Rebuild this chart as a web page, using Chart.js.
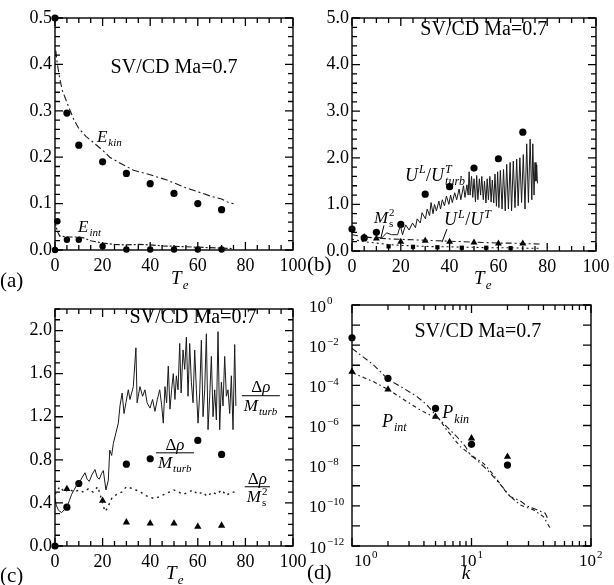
<!DOCTYPE html>
<html><head><meta charset="utf-8">
<script src="https://cdn.jsdelivr.net/npm/chart.js@4.4.1/dist/chart.umd.min.js"></script>
<style>
html,body{margin:0;padding:0;background:#fff;width:614px;height:585px;overflow:hidden}
canvas{position:absolute}
</style></head><body>
<canvas id="ca" width="307" height="292" style="left:0;top:0"></canvas>
<canvas id="cb" width="307" height="292" style="left:307px;top:0"></canvas>
<canvas id="cc" width="307" height="293" style="left:0;top:292px"></canvas>
<canvas id="cd" width="307" height="293" style="left:307px;top:292px"></canvas>
<script>
// ---------------- DATA ----------------
// Panel (a): energies vs T_e
const aXTicks = [0, 20, 40, 60, 80, 100];
const aYTicks = [0, 0.1, 0.2, 0.3, 0.4, 0.5];
const aEkinT = [0.3, 1, 2, 3, 4.5, 6, 8, 10, 13, 17, 20, 23, 27, 33, 40, 47, 55, 62, 66, 70, 73, 75];
const aEkin  = [0.43, 0.40, 0.37, 0.345, 0.325, 0.305, 0.28, 0.262, 0.245, 0.228, 0.215, 0.2, 0.188, 0.172, 0.162, 0.151, 0.134, 0.122, 0.115, 0.11, 0.102, 0.1];
const aEintT = [0, 0.5, 1, 2, 4, 6, 8, 10, 12, 15, 18, 20, 25, 30, 35, 40, 45, 50, 55, 60, 65, 70, 75];
const aEint  = [0.065, 0.05, 0.04, 0.03, 0.029, 0.028, 0.028, 0.028, 0.026, 0.02, 0.017, 0.015, 0.012, 0.011, 0.012, 0.011, 0.009, 0.008, 0.007, 0.006, 0.005, 0.004, 0.003];
const aKinDotT = [0, 5, 10, 20, 30, 40, 50, 60, 70];
const aKinDot  = [0.5, 0.295, 0.226, 0.19, 0.165, 0.143, 0.122, 0.1, 0.087];
const aIntDotT = [0, 1, 5, 10, 20, 30, 40, 50, 60, 70];
const aIntDot  = [0, 0.062, 0.022, 0.022, 0.008, 0.001, 0.001, 0.001, 0.001, 0.001];

// Panel (b): velocity ratios vs T_e
const bXTicks = [0, 20, 40, 60, 80, 100];
const bYTicks = [0, 1, 2, 3, 4, 5];
const bTurbT = [10,12.2,14.2,16.2,18.7,19.8,20.7,22,23.4,24.8,26,26.7,28,28.7,30.1,30.8,31.8,32.4,33.2,33.8,34.6,35.6,36.3,37,37.9,38.7,39.7,40.4,41.1,42.1,42.9,43.9,44.6,45.7,46.3,47.1,47.6,48,48.4,49,49.5,50,50.6,51.1,51.6,52.2,52.7,53.2,53.8,54.3,54.9,55.4,55.9,56.5,57,57.5,58.1,58.6,59.2,59.7,60.2,60.8,61.5,62.1,62.8,63.4,64.1,64.8,65.4,66.1,66.8,67.5,68.1,68.8,69.5,70.2,70.9,71.6,72.3,73,73.7,74.1,74.6,75,75.4,75.7,76];
const bTurb  = [0.3,0.28,0.39,0.35,0.35,0.55,0.35,0.56,0.45,0.6,0.5,0.69,0.6,0.82,0.69,0.9,0.76,1.04,0.8,1.0,0.86,1.07,0.9,1.1,0.97,1.18,1.0,1.2,1.04,1.25,1.1,1.33,1.1,1.4,1.15,1.42,1.2,1.7,1.2,1.6,1.15,1.55,1.05,1.62,1.1,1.55,1.2,1.6,1.1,1.5,1.03,1.55,1.1,1.6,1.05,1.52,1.03,1.65,0.96,1.7,0.93,1.73,0.9,1.75,0.86,1.86,0.9,1.9,0.86,1.93,0.93,1.97,0.97,2.0,1.04,2.07,0.9,2.3,1.04,2.4,1.1,2.3,1.2,1.9,1.5,1.85,1.45];
const bTurbDotT = [0, 5, 10, 20, 30, 40, 50, 60, 70];
const bTurbDot  = [0.47, 0.28, 0.4, 0.57, 1.22, 1.38, 1.78, 1.98, 2.55];
const bUlutT = [0, 5, 10, 15, 20, 25, 30, 35, 40, 45, 50, 55, 60, 65, 70, 77];
const bUlut  = [0.35, 0.3, 0.28, 0.26, 0.25, 0.24, 0.23, 0.22, 0.21, 0.2, 0.19, 0.18, 0.17, 0.17, 0.16, 0.15];
const bUlutTriT = [5, 10, 20, 30, 40, 50, 60, 70];
const bUlutTri  = [0.3, 0.27, 0.2, 0.22, 0.2, 0.18, 0.16, 0.16];
const bMs2T = [0, 5, 10, 15, 20, 25, 30, 35, 40, 45, 50, 55, 60, 65, 70, 77];
const bMs2  = [0.25, 0.2, 0.17, 0.14, 0.12, 0.11, 0.1, 0.09, 0.09, 0.08, 0.08, 0.07, 0.07, 0.07, 0.06, 0.06];
const bMs2SqT = [15, 25, 35, 45, 55, 65];
const bMs2Sq  = [0.1, 0.09, 0.08, 0.07, 0.07, 0.06];

// Panel (c): density fluctuation ratios vs T_e
const cXTicks = [0, 20, 40, 60, 80, 100];
const cYTicks = [0, 0.4, 0.8, 1.2, 1.6, 2.0];
const cTurbT = [0,0.5,1.5,2.8,4,5,6,7,8,9,10.5,11.5,12.6,13.5,14.4,15.5,16.8,17.7,18.6,19.5,20.3,21.4,22.4,23,23.8,24.5,25.6,26.6,27.3,28.2,29,29.8,30.8,31.5,32.9,34,34.5,35.7,36.8,37.8,38.7,39.9,41,42,43,44,44.8,45.5,46.2,46.9,47.6,48.3,49,49.7,50.4,51,51.7,52.4,53,53.8,54.5,55.2,55.9,56.6,57.3,58,58.7,59.4,60.1,60.8,61.5,62.2,62.9,63.6,64.3,65,65.7,66.4,67.1,67.8,68.5,69.2,69.9,70.6,71.3,72,72.7,73.4,74.1,74.8,75.5,76];
const cTurb  = [0.45,0.38,0.33,0.31,0.34,0.36,0.42,0.48,0.52,0.56,0.6,0.64,0.68,0.62,0.6,0.66,0.71,0.64,0.62,0.67,0.7,0.52,0.61,0.89,0.84,0.95,1.05,1.14,1.3,1.42,1.23,1.33,1.45,1.36,1.48,1.84,1.33,1.48,1.39,1.45,1.33,1.28,1.36,1.25,1.36,1.45,1.31,1.14,1.48,1.33,1.67,1.27,1.45,1.6,1.36,1.58,1.45,1.88,1.42,1.82,1.64,1.94,1.39,1.88,1.52,1.33,1.82,1.45,1.14,1.42,1.91,1.2,1.45,1.97,1.08,1.39,1.76,1.2,1.45,1.17,1.99,1.08,1.52,1.3,1.76,1.39,1.45,1.23,1.58,1.08,1.87,1.3];
const cMsT = [0,2,4,6,8,10,12,14,16,18,20,21,22,24,26,28,30,33,36,38,40,42,44,46,48,50,52,54,56,58,60,62,64,66,68,70,72,74,76];
const cMs  = [0.48,0.55,0.5,0.53,0.5,0.52,0.5,0.53,0.5,0.55,0.4,0.32,0.35,0.45,0.48,0.5,0.55,0.53,0.5,0.47,0.45,0.44,0.46,0.48,0.5,0.52,0.5,0.48,0.5,0.52,0.48,0.5,0.46,0.5,0.48,0.52,0.47,0.5,0.5];
const cDotT = [0, 5, 10, 30, 40, 60, 70];
const cDot  = [0.0, 0.36, 0.58, 0.76, 0.81, 0.98, 0.85];
const cTriT = [5, 20, 30, 40, 50, 60, 70];
const cTri  = [0.53, 0.42, 0.22, 0.21, 0.21, 0.18, 0.19];

// Panel (d): spectra vs k
const dXExp = [0, 1, 2];
const dYExp = [0, -2, -4, -6, -8, -10, -12];
const dKinK = [1,1.52,2,2.7,3.5,4.24,5.14,6.2,7.55,8.9,9.77,11.1,13.5,15.3,18.6,21.1,25.5,29,35.3,41.4,44];
const dKin  = [6.9e-3,1.02e-3,2.0e-4,7.1e-5,2.75e-5,1.05e-5,2.75e-6,8.7e-7,2.75e-7,8.9e-8,3.4e-8,1.9e-8,6.3e-9,2.8e-9,7.4e-10,2.9e-10,1.8e-10,1.0e-10,6.3e-11,4.3e-11,2.0e-11];
const dIntK = [1,1.52,2,2.88,3.73,4.5,5.3,6.2,8.06,10.4,12.6,15.3,19.8,25.5,33,40,45.6];
const dInt  = [4.3e-4,1.5e-4,6.3e-5,1.55e-5,5.9e-6,3.3e-6,2.3e-6,6.0e-7,8.9e-8,2.8e-8,1.3e-8,3.5e-9,4.2e-10,1.1e-10,6.3e-11,2.9e-11,7.6e-12];
const dDotK = [1, 2, 5, 10, 20];
const dDot  = [2.34e-2, 2.24e-4, 7.1e-6, 1.15e-7, 1.07e-8];
const dTriK = [1, 2, 5, 10, 20];
const dTri  = [4.8e-4, 6.3e-5, 2.75e-6, 2.3e-7, 2.8e-8];

// ---------------- HELPERS ----------------
const SERIF = "'Liberation Serif','DejaVu Serif',serif";
const INK = '#000';
const pts = (xs, ys) => xs.map((x, i) => ({x: x, y: ys[i]}));
const fnt = (s, it) => (it ? 'italic ' : '') + s + 'px ' + SERIF;

function lineDs(xs, ys, dash, w) {
  return {data: pts(xs, ys), showLine: true, pointRadius: 0, borderColor: '#1a1a1a',
          borderWidth: w || 1, borderDash: dash || [], tension: 0, fill: false};
}
function markDs(xs, ys, style, r) {
  return {data: pts(xs, ys), showLine: false, pointStyle: style, pointRadius: r,
          pointBackgroundColor: '#000', pointBorderColor: '#000', pointBorderWidth: 0, clip: 8};
}
function linMarks(min, max, minor, major) {
  const out = []; const n = Math.round((max - min) / minor);
  for (let i = 0; i <= n; i++) {
    const v = min + i * minor; const q = v / major;
    out.push({v: v, len: Math.abs(q - Math.round(q)) < 1e-6 ? 8 : 5});
  }
  return out;
}
function logMarks(e0, e1, withMinor) {
  const out = [];
  for (let e = e0; e <= e1; e++) {
    out.push({v: Math.pow(10, e), len: 8});
    if (withMinor && e < e1) for (let m = 2; m <= 9; m++) out.push({v: m * Math.pow(10, e), len: 5});
  }
  return out;
}
// rich text: parts = [{t:'E', it:true}, {sub:'kin'}, {sup:'2', sub:'s'}]
function richLayout(ctx, parts, S) {
  const s2 = Math.round(S * 0.66); let w = 0; const items = [];
  for (const p of parts) {
    if (p.t !== undefined) { ctx.font = fnt(S, p.it); const pw = ctx.measureText(p.t).width; items.push({p, pw, k: 't'}); w += pw; }
    else { ctx.font = fnt(s2, p.it !== false); let pw = 0;
      if (p.sup) pw = Math.max(pw, ctx.measureText(p.sup).width);
      if (p.sub) pw = Math.max(pw, ctx.measureText(p.sub).width);
      pw += 1.5; items.push({p, pw, k: 's'}); w += pw; }
  }
  return {items, w, s2};
}
function rich(ctx, parts, x, cy, S, align) {
  const L = richLayout(ctx, parts, S);
  let cx = align === 'center' ? x - L.w / 2 : align === 'right' ? x - L.w : x;
  const base = cy + S * 0.33;
  ctx.textAlign = 'left'; ctx.textBaseline = 'alphabetic'; ctx.fillStyle = INK;
  for (const it of L.items) {
    if (it.k === 't') { ctx.font = fnt(S, it.p.it); ctx.fillText(it.p.t, cx, base); }
    else { ctx.font = fnt(L.s2, it.p.it !== false);
      if (it.p.sup) ctx.fillText(it.p.sup, cx + 1, base - S * 0.42);
      if (it.p.sub) ctx.fillText(it.p.sub, cx + 1, base + S * 0.24); }
    cx += it.pw;
  }
  return L.w;
}
function frac(ctx, num, den, cx, barY, S) {
  const w = Math.max(richLayout(ctx, num, S).w, richLayout(ctx, den, S).w) + 4;
  rich(ctx, num, cx, barY - S * 0.52, S, 'center');
  rich(ctx, den, cx, barY + S * 0.58, S, 'center');
  ctx.strokeStyle = INK; ctx.lineWidth = 1; ctx.setLineDash([]);
  ctx.beginPath(); ctx.moveTo(cx - w / 2, barY); ctx.lineTo(cx + w / 2, barY); ctx.stroke();
}
function seg(ctx, x1, y1, x2, y2) {
  ctx.strokeStyle = INK; ctx.lineWidth = 1; ctx.setLineDash([]);
  ctx.beginPath(); ctx.moveTo(x1, y1); ctx.lineTo(x2, y2); ctx.stroke();
}
const TITLE = 'SV/CD Ma=0.7';
const RHO = [{t: 'Δ'}, {t: 'ρ', it: true}];
const MTURB = [{t: 'M', it: true}, {sub: 'turb'}];
const MS2 = [{t: 'M', it: true}, {sup: '2', it: false, sub: 's'}];
const TE = [{t: 'T', it: true}, {sub: 'e'}];

function makeChart(id, c) {
  const el = document.getElementById(id);
  const frame = {
    id: 'frameTicks',
    afterDraw(chart) {
      const ctx = chart.ctx, a = chart.chartArea, X = chart.scales.x, Y = chart.scales.y;
      ctx.save(); ctx.setLineDash([]); ctx.globalAlpha = 1;
      ctx.strokeStyle = '#000'; ctx.lineWidth = 1.3;
      ctx.beginPath();
      for (const m of c.xMarks) {
        const px = X.getPixelForValue(m.v);
        ctx.moveTo(px, a.bottom); ctx.lineTo(px, a.bottom - m.len);
        ctx.moveTo(px, a.top); ctx.lineTo(px, a.top + m.len);
      }
      for (const m of c.yMarks) {
        const py = Y.getPixelForValue(m.v);
        ctx.moveTo(a.left, py); ctx.lineTo(a.left + m.len, py);
        ctx.moveTo(a.right, py); ctx.lineTo(a.right - m.len, py);
      }
      ctx.stroke();
      ctx.lineWidth = 1.4;
      ctx.strokeRect(a.left, a.top, a.right - a.left, a.bottom - a.top);
      ctx.restore();
      ctx.save(); ctx.setLineDash([]); c.draw(ctx, X, Y, chart); ctx.restore();
    }
  };
  const tickFont = {family: SERIF, size: 18};
  return new Chart(el, {
    type: 'scatter',
    data: {datasets: c.datasets},
    options: {
      responsive: false, animation: false, devicePixelRatio: 1,
      events: [],
      layout: {padding: {left: 0, top: c.area.t, right: c.w - c.area.r, bottom: 0}},
      plugins: {legend: {display: false}, tooltip: {enabled: false}},
      scales: {
        x: {type: c.x.type, min: c.x.min, max: c.x.max,
            grid: {display: false, drawTicks: false}, border: {display: false},
            afterBuildTicks: s => { s.ticks = c.x.ticks.map(v => ({value: v})); },
            afterFit: s => { s.height = c.h - c.area.b; s.paddingLeft = 0; s.paddingRight = 0; },
            ticks: {display: c.x.show, padding: 5, maxRotation: 0, minRotation: 0, autoSkip: false,
                    color: '#000', font: tickFont, callback: c.x.fmt}},
        y: {type: c.y.type, min: c.y.min, max: c.y.max,
            grid: {display: false, drawTicks: false}, border: {display: false},
            afterBuildTicks: s => { s.ticks = c.y.ticks.map(v => ({value: v})); },
            afterFit: s => { s.width = c.area.l; s.paddingTop = 0; s.paddingBottom = 0; },
            ticks: {display: c.y.show, padding: 3, autoSkip: false,
                    color: '#000', font: tickFont, callback: c.y.fmt}}
      }
    },
    plugins: [frame]
  });
}
const f1 = v => Number(v).toFixed(1);
const f0 = v => String(Math.round(v));
function label(ctx, s, x, y) {
  ctx.font = fnt(21); ctx.textAlign = 'left'; ctx.textBaseline = 'middle'; ctx.fillStyle = INK;
  ctx.fillText(s, x, y);
}
function title(ctx, x, y) {
  ctx.font = fnt(20); ctx.fillStyle = INK; ctx.textAlign = 'center'; ctx.textBaseline = 'middle';
  ctx.fillText(TITLE, x, y);
}

// ---------------- PANEL (a) ----------------
makeChart('ca', {
  w: 307, h: 292, area: {l: 55, t: 18, r: 293, b: 250},
  x: {type: 'linear', min: 0, max: 100, ticks: aXTicks, show: true, fmt: f0},
  y: {type: 'linear', min: 0, max: 0.5, ticks: aYTicks, show: true, fmt: f1},
  xMarks: linMarks(0, 100, 5, 20), yMarks: linMarks(0, 0.5, 0.02, 0.1),
  datasets: [
    lineDs(aEkinT, aEkin, [7, 3, 2, 3], 1.1),
    lineDs(aEintT, aEint, [6, 2, 2, 2], 1.2),
    markDs(aKinDotT, aKinDot, 'circle', 3.6),
    markDs(aIntDotT, aIntDot, 'circle', 3.2)
  ],
  draw(ctx, X, Y) {
    title(ctx, X.getPixelForValue(50), Y.getPixelForValue(0.392));
    rich(ctx, [{t: 'E', it: true}, {sub: 'kin'}], X.getPixelForValue(17.6), Y.getPixelForValue(0.245), 17, 'left');
    rich(ctx, [{t: 'E', it: true}, {sub: 'int'}], X.getPixelForValue(9.7), Y.getPixelForValue(0.05), 17, 'left');
    rich(ctx, TE, 180, 278, 19, 'center');
    label(ctx, '(a)', 0, 281);
  }
});

// ---------------- PANEL (b) ----------------
makeChart('cb', {
  w: 307, h: 292, area: {l: 45, t: 18, r: 289, b: 251},
  x: {type: 'linear', min: 0, max: 100, ticks: bXTicks, show: true, fmt: f0},
  y: {type: 'linear', min: 0, max: 5, ticks: bYTicks, show: true, fmt: f1},
  xMarks: linMarks(0, 100, 5, 20), yMarks: linMarks(0, 5, 0.2, 1),
  datasets: [
    lineDs(bTurbT, bTurb, [], 1),
    lineDs(bUlutT, bUlut, [6, 3, 2, 3], 1.1),
    lineDs(bMs2T, bMs2, [2, 3], 1.1),
    markDs(bTurbDotT, bTurbDot, 'circle', 3.6),
    markDs(bUlutTriT, bUlutTri, 'triangle', 4),
    markDs(bMs2SqT, bMs2Sq, 'rect', 3)
  ],
  draw(ctx, X, Y) {
    title(ctx, X.getPixelForValue(54), Y.getPixelForValue(4.74));
    rich(ctx, [{t: 'U', it: true}, {sup: 'L'}, {t: '/'}, {t: 'U', it: true}, {sup: 'T', sub: 'turb'}],
         X.getPixelForValue(21.7), Y.getPixelForValue(1.63), 18, 'left');
    rich(ctx, MS2, X.getPixelForValue(9), Y.getPixelForValue(0.72), 17, 'left');
    seg(ctx, X.getPixelForValue(13.1), Y.getPixelForValue(0.55), X.getPixelForValue(11.9), Y.getPixelForValue(0.29));
    rich(ctx, [{t: 'U', it: true}, {sup: 'L'}, {t: '/'}, {t: 'U', it: true}, {sup: 'T'}],
         X.getPixelForValue(37.7), Y.getPixelForValue(0.68), 18, 'left');
    seg(ctx, X.getPixelForValue(38.9), Y.getPixelForValue(0.47), X.getPixelForValue(36.9), Y.getPixelForValue(0.19));
    rich(ctx, TE, 176, 278, 19, 'center');
    label(ctx, '(b)', 0, 265);
  }
});

// ---------------- PANEL (c) ----------------
makeChart('cc', {
  w: 307, h: 293, area: {l: 55, t: 17, r: 293, b: 254},
  x: {type: 'linear', min: 0, max: 100, ticks: cXTicks, show: true, fmt: f0},
  y: {type: 'linear', min: 0, max: 2.2, ticks: cYTicks, show: true, fmt: f1},
  xMarks: linMarks(0, 100, 5, 20), yMarks: linMarks(0, 2.2, 0.1, 0.4),
  datasets: [
    lineDs(cTurbT, cTurb, [], 1),
    lineDs(cMsT, cMs, [2, 4], 1.4),
    markDs(cDotT, cDot, 'circle', 3.6),
    markDs(cTriT, cTri, 'triangle', 4.2)
  ],
  draw(ctx, X, Y) {
    title(ctx, X.getPixelForValue(58), Y.getPixelForValue(2.12));
    frac(ctx, RHO, MTURB, X.getPixelForValue(86.5), Y.getPixelForValue(1.395), 17);
    frac(ctx, RHO, MTURB, X.getPixelForValue(50.4), Y.getPixelForValue(0.865), 17);
    frac(ctx, RHO, MS2, X.getPixelForValue(85), Y.getPixelForValue(0.55), 17);
    rich(ctx, TE, 175, 281, 19, 'center');
    label(ctx, '(c)', 0, 284);
  }
});

// ---------------- PANEL (d) ----------------
makeChart('cd', {
  w: 307, h: 293, area: {l: 45, t: 13, r: 284, b: 254},
  x: {type: 'logarithmic', min: 1, max: 100, ticks: dXExp.map(e => Math.pow(10, e)), show: false, fmt: f0},
  y: {type: 'logarithmic', min: 1e-12, max: 1, ticks: dYExp.map(e => Math.pow(10, e)), show: false, fmt: f0},
  xMarks: logMarks(0, 2, true), yMarks: logMarks(-12, 0, false),
  datasets: [
    lineDs(dKinK, dKin, [6, 3, 1.5, 3], 1.1),
    lineDs(dIntK, dInt, [4, 3, 1.5, 3], 1.1),
    markDs(dDotK, dDot, 'circle', 3.6),
    markDs(dTriK, dTri, 'triangle', 4.2)
  ],
  draw(ctx, X, Y, chart) {
    const a = chart.chartArea;
    dYExp.forEach(e => rich(ctx, [{t: '10'}, {sup: e === 0 ? '0' : '−' + (-e), it: false}], 2, Y.getPixelForValue(Math.pow(10, e)) + 1, 17, 'left'));
    dXExp.forEach((e, i) => {
      const px = X.getPixelForValue(Math.pow(10, e));
      rich(ctx, [{t: '10'}, {sup: String(e), it: false}], i === 0 ? px + 2 : px, a.bottom + 14, 17, i === 0 ? 'left' : 'center');
    });
    title(ctx, X.getPixelForValue(11.3), Y.getPixelForValue(0.045));
    rich(ctx, [{t: 'P', it: true}, {sub: 'int'}], X.getPixelForValue(1.78), Y.getPixelForValue(1.66e-6), 18, 'left');
    rich(ctx, [{t: 'P', it: true}, {sub: 'kin'}], X.getPixelForValue(5.7), Y.getPixelForValue(4.5e-6), 18, 'left');
    rich(ctx, [{t: 'k', it: true}], 159, 281, 19, 'center');
    label(ctx, '(d)', 0, 281);
  }
});
</script>
</body></html>
